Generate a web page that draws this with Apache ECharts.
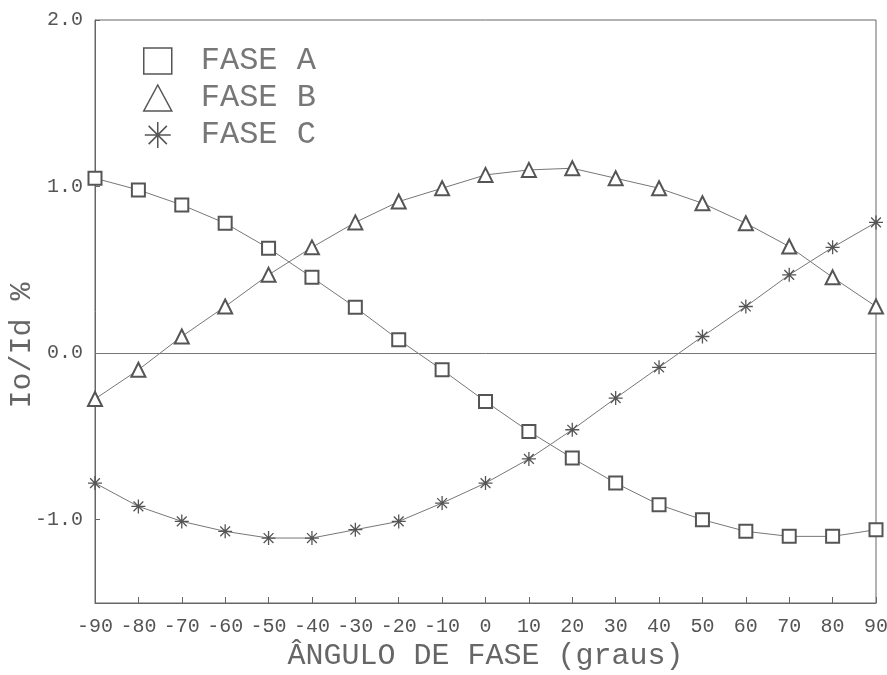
<!DOCTYPE html>
<html>
<head>
<meta charset="utf-8">
<script src="https://cdn.jsdelivr.net/npm/echarts@6/dist/echarts.min.js"></script>
<style>html,body{margin:0;padding:0;background:#fff;}#c{width:887px;height:675px;}</style>
</head>
<body>
<div id="c"></div>
<script>
var angles = [-90,-80,-70,-60,-50,-40,-30,-20,-10,0,10,20,30,40,50,60,70,80,90];
var faseA = [1.05,0.98,0.89,0.78,0.63,0.455,0.275,0.08,-0.10,-0.29,-0.47,-0.63,-0.78,-0.91,-1.00,-1.07,-1.10,-1.10,-1.06];
var faseB = [-0.275,-0.10,0.10,0.28,0.47,0.635,0.785,0.91,0.99,1.07,1.10,1.11,1.05,0.99,0.90,0.78,0.64,0.455,0.28];
var faseC = [-0.78,-0.92,-1.01,-1.07,-1.11,-1.11,-1.06,-1.01,-0.90,-0.78,-0.635,-0.46,-0.27,-0.085,0.10,0.28,0.47,0.635,0.785];
var yTickLabels = [-1, 0, 1, 2];
var names = ['FASE A','FASE B','FASE C'];

var starPath = 'path://M0,5L10,5M5,0L5,10M1.5,1.5L8.5,8.5M1.5,8.5L8.5,1.5';
function pairs(v){ return angles.map(function(a,i){ return [a, v[i]]; }); }
var font = 'Liberation Mono';
var chart = echarts.init(document.getElementById('c'));
chart.setOption({
  animation: false,
  backgroundColor: '#fff',
  grid: { left: 95, right: 11, top: 20, bottom: 72, show: true, borderColor: '#666', borderWidth: 1,
          containLabel: false, outerBoundsMode: 'none' },
  legend: {
    left: 138, top: 40, orient: 'vertical',
    itemWidth: 28, itemHeight: 26, itemGap: 5,
    textStyle: { fontFamily: font, fontSize: 32, color: '#777', padding: [0,0,0,24] },
    itemStyle: { color: 'transparent', borderColor: '#555', borderWidth: 1.5 },
    data: [
      { name: names[0], icon: 'rect' },
      { name: names[1], icon: 'triangle' },
      { name: names[2], icon: starPath }
    ]
  },
  xAxis: {
    type: 'value', min: -90, max: 90, interval: 10,
    name: 'ÂNGULO DE FASE (graus)', nameLocation: 'middle', nameGap: 38, nameMoveOverlap: false,
    nameTextStyle: { fontFamily: font, fontSize: 30, color: '#666' },
    axisLine: { show: true, onZero: false, lineStyle: { color: '#666', width: 1 } },
    axisTick: { show: true, inside: true, length: 6, lineStyle: { color: '#666' } },
    axisLabel: { fontFamily: font, fontSize: 20, color: '#555', margin: 14 },
    splitLine: { show: false }
  },
  yAxis: {
    type: 'value', min: -1.5, max: 2.0, interval: 0.5,
    name: 'Io/Id %', nameLocation: 'middle', nameGap: 58, nameRotate: 90, nameMoveOverlap: false,
    nameTextStyle: { fontFamily: font, fontSize: 30, color: '#666', padding: [0, 68, 0, 0] },
    axisLine: { show: true, onZero: false, lineStyle: { color: '#666', width: 1 } },
    axisTick: { show: true, inside: true, length: 5, customValues: yTickLabels, lineStyle: { color: '#666' } },
    axisLabel: { fontFamily: font, fontSize: 20, color: '#555', margin: 12, customValues: yTickLabels,
      formatter: function(v){ return v.toFixed(1); } },
    splitLine: { show: false }
  },
  series: [
    { name: names[0], type: 'line', data: pairs(faseA), symbol: 'emptyRect', symbolSize: 13,
      itemStyle: { color: '#555', borderWidth: 1.2 }, lineStyle: { color: '#777', width: 1 },
      markLine: { silent: true, symbol: 'none', label: { show: false },
        lineStyle: { color: '#777', width: 1, type: 'solid' }, data: [{ yAxis: 0 }] } },
    { name: names[1], type: 'line', data: pairs(faseB), symbol: 'emptyTriangle', symbolSize: 14,
      itemStyle: { color: '#555', borderWidth: 1.2 }, lineStyle: { color: '#777', width: 1 } },
    { name: names[2], type: 'line', data: pairs(faseC), symbol: starPath, symbolSize: 14,
      itemStyle: { color: '#555', borderColor: '#555', borderWidth: 1.3 }, lineStyle: { color: '#777', width: 1 } }
  ]
});
</script>
</body>
</html>
